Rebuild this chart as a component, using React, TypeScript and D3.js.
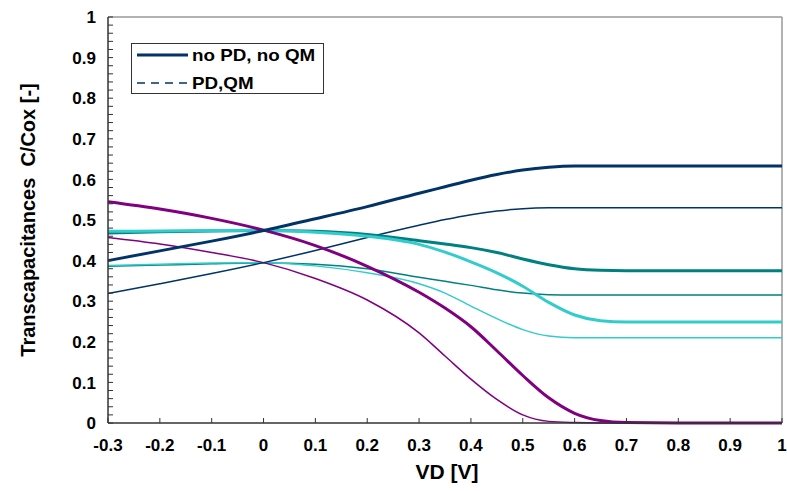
import React from "react";
import * as d3 from "d3";

const xTicks = [-0.3, -0.2, -0.1, 0, 0.1, 0.2, 0.3, 0.4, 0.5, 0.6, 0.7, 0.8, 0.9, 1];
const yTicks = [0, 0.1, 0.2, 0.3, 0.4, 0.5, 0.6, 0.7, 0.8, 0.9, 1];

const vd = [-0.3, -0.2, -0.1, 0, 0.1, 0.2, 0.3, 0.35, 0.4, 0.45, 0.5, 0.55, 0.6, 0.65, 0.7, 0.8, 0.9, 1];

const navyThick = [0.400, 0.424, 0.448, 0.474, 0.503, 0.533, 0.566, 0.582, 0.598, 0.612, 0.623, 0.630, 0.633, 0.633, 0.633, 0.633, 0.633, 0.633];
const navyThin = [0.319, 0.343, 0.368, 0.395, 0.425, 0.457, 0.487, 0.501, 0.513, 0.522, 0.528, 0.530, 0.530, 0.530, 0.530, 0.530, 0.530, 0.530];
const purpleThick = [0.545, 0.527, 0.504, 0.475, 0.437, 0.386, 0.322, 0.283, 0.237, 0.178, 0.117, 0.062, 0.024, 0.006, 0.001, 0, 0, 0];
const purpleThin = [0.457, 0.441, 0.420, 0.395, 0.356, 0.303, 0.222, 0.165, 0.108, 0.058, 0.020, 0.004, 0.001, 0, 0, 0, 0, 0];
const tealThick = [0.468, 0.471, 0.473, 0.474, 0.472, 0.464, 0.449, 0.441, 0.432, 0.420, 0.404, 0.390, 0.380, 0.376, 0.375, 0.375, 0.375, 0.375];
const cyanThick = [0.472, 0.473, 0.474, 0.475, 0.470, 0.460, 0.440, 0.421, 0.397, 0.370, 0.337, 0.297, 0.266, 0.252, 0.249, 0.249, 0.249, 0.249];
const tealThin = [0.386, 0.389, 0.392, 0.394, 0.391, 0.380, 0.359, 0.349, 0.339, 0.328, 0.320, 0.316, 0.315, 0.315, 0.315, 0.315, 0.315, 0.315];
const cyanThin = [0.388, 0.391, 0.394, 0.395, 0.387, 0.370, 0.343, 0.320, 0.288, 0.257, 0.230, 0.214, 0.210, 0.210, 0.210, 0.210, 0.210, 0.210];

const NAVY = "#003366";
const PURPLE = "#800080";
const TEAL = "#008080";
const CYAN = "#33CCCC";

const series = [
  { values: tealThin, color: TEAL, width: 1.5 },
  { values: cyanThin, color: CYAN, width: 1.5 },
  { values: purpleThin, color: PURPLE, width: 1.5 },
  { values: navyThin, color: NAVY, width: 1.5 },
  { values: tealThick, color: TEAL, width: 3 },
  { values: cyanThick, color: CYAN, width: 3 },
  { values: purpleThick, color: PURPLE, width: 3 },
  { values: navyThick, color: NAVY, width: 3 },
];

export default function App() {
  const W = 787, H = 491;
  const left = 108, right = 782, top = 17, bottom = 423;
  const x = d3.scaleLinear().domain([-0.3, 1]).range([left, right]);
  const y = d3.scaleLinear().domain([0, 1]).range([bottom, top]);
  const line = d3
    .line<number>()
    .x((_, i) => x(vd[i]))
    .y((d) => y(d))
    .curve(d3.curveMonotoneX);
  const minor = d3.range(0, 1.0001, 0.02);
  const font = "'Liberation Sans', Arial, sans-serif";

  return (
    <svg width={W} height={H} style={{ position: "absolute", left: 0, top: 0, background: "#fff" }} fontFamily={font}>
      <rect x={0} y={0} width={W} height={H} fill="#fff" />
      {/* frame */}
      <line x1={left} y1={top} x2={right} y2={top} stroke="#999" strokeWidth={1.5} />
      <line x1={right} y1={top} x2={right} y2={bottom} stroke="#999" strokeWidth={1.5} />
      {/* curves */}
      {series.map((s, i) => (
        <path key={i} d={line(s.values) || ""} fill="none" stroke={s.color} strokeWidth={s.width} strokeLinejoin="round" />
      ))}
      {/* axes */}
      <line x1={left} y1={top} x2={left} y2={bottom} stroke="#333" strokeWidth={1.5} />
      <line x1={left} y1={bottom} x2={right} y2={bottom} stroke="#333" strokeWidth={1.5} />
      {minor.map((v, i) => (
        <line key={"ym" + i} x1={left} x2={left + 5} y1={y(v)} y2={y(v)} stroke="#333" strokeWidth={1} />
      ))}
      {xTicks.map((v, i) => (
        <line key={"xt" + i} x1={x(v)} x2={x(v)} y1={bottom} y2={bottom - 5} stroke="#333" strokeWidth={1} />
      ))}
      {yTicks.map((v, i) => (
        <text key={"yl" + i} x={96} y={y(v)} dy="0.36em" textAnchor="end" fontSize={17} fontWeight="bold" fill="#000">
          {String(v)}
        </text>
      ))}
      {xTicks.map((v, i) => (
        <text key={"xl" + i} x={x(v)} y={445} dy="0.36em" textAnchor="middle" fontSize={17} fontWeight="bold" fill="#000">
          {String(v)}
        </text>
      ))}
      <text x={447} y={479} textAnchor="middle" fontSize={21} fontWeight="bold">VD [V]</text>
      <text transform={`translate(35,220) rotate(-90)`} textAnchor="middle" fontSize={20} fontWeight="bold" xmlSpace="preserve">
        Transcapacitances  C/Cox [-]
      </text>
      {/* legend */}
      <rect x={131.5} y={43.5} width={192} height={50} fill="#fff" stroke="#333" strokeWidth={1} />
      <line x1={137} x2={188} y1={55} y2={55} stroke={NAVY} strokeWidth={3} />
      <text transform="translate(192,55) scale(1.14,1)" dy="0.36em" fontSize={16.5} fontWeight="bold">no PD, no QM</text>
      <line x1={137} x2={188} y1={83} y2={83} stroke={NAVY} strokeWidth={1.5} strokeDasharray="8,6" />
      <text transform="translate(192,83) scale(1.14,1)" dy="0.36em" fontSize={16.5} fontWeight="bold">PD,QM</text>
    </svg>
  );
}
